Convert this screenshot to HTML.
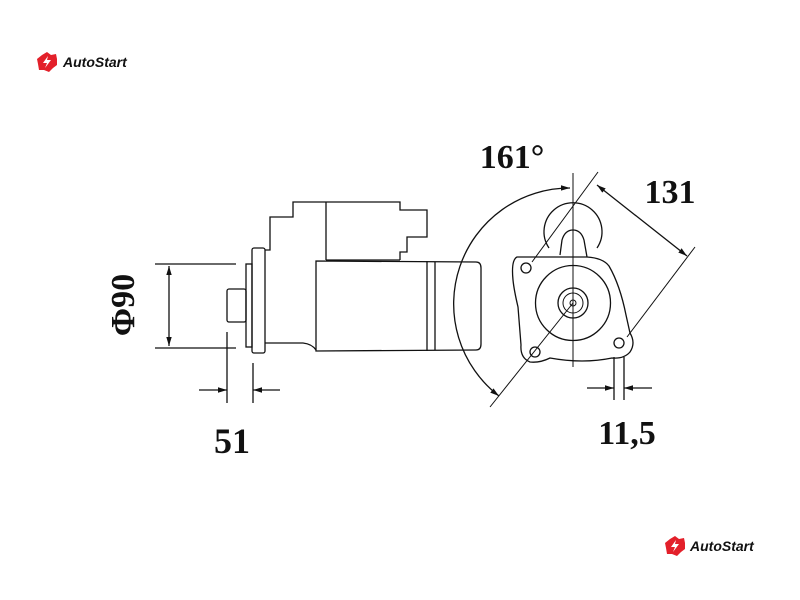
<!DOCTYPE html>
<html><head><meta charset="utf-8"><style>
html,body{margin:0;padding:0;background:#fff;width:800px;height:600px;overflow:hidden}
svg{display:block}
.t{font-family:"Liberation Serif",serif;font-weight:bold;fill:#111}
.l{font-family:"Liberation Sans",sans-serif;font-style:italic;font-weight:bold;fill:#111}
</style></head><body>
<svg width="800" height="600" viewBox="0 0 800 600" xmlns="http://www.w3.org/2000/svg">
<defs>
<marker id="a" viewBox="0 0 10 10" refX="10" refY="5" markerWidth="9" markerHeight="9" orient="auto-start-reverse" markerUnits="userSpaceOnUse"><path d="M0,2 L10,5 L0,8 Z" fill="#111"/></marker>
</defs>
<g fill="none" stroke="#111" stroke-width="1.3">
<!-- side view -->
<rect x="227" y="289" width="19" height="33" rx="2"/>
<rect x="246" y="264" width="6" height="83"/>
<rect x="252" y="248" width="13" height="105" rx="2"/>
<path d="M265,250 L270,250 L270,217 L293,217 L293,202 L400,202 L400,210 L427,210 L427,237 L407,237 L407,252 L400,252 L400,260"/>
<line x1="326" y1="202" x2="326" y2="260"/>
<line x1="326" y1="260" x2="400" y2="260"/>
<path d="M265,343 L303,343 Q312,344 316,350"/>
<path d="M316,261 L476,262 Q481,262 481,268 L481,344 Q481,350 476,350 L316,351 Z"/>
<line x1="427" y1="261" x2="427" y2="351"/>
<line x1="435" y1="262" x2="435" y2="350"/>
<!-- phi 90 -->
<line x1="155" y1="264" x2="236" y2="264"/>
<line x1="155" y1="348" x2="236" y2="348"/>
<line x1="169" y1="266" x2="169" y2="346" marker-start="url(#a)" marker-end="url(#a)"/>
<!-- 51 -->
<line x1="227" y1="332" x2="227" y2="403"/>
<line x1="253" y1="363" x2="253" y2="403"/>
<line x1="199" y1="390" x2="227" y2="390" marker-end="url(#a)"/>
<line x1="280" y1="390" x2="253" y2="390" marker-end="url(#a)"/>
<!-- front view -->
<line x1="573" y1="173" x2="573" y2="367" stroke-width="1"/>
<path d="M549,248 A29,29 0 1 1 597,248"/>
<path d="M560,255 L562,240 Q565,230 573,230 Q581,230 584,240 L587,257"/>
<path d="M517,257 L587,257 Q603,258 609,266 Q620,285 626,315 L630,333 Q636,343 630,352 Q624,359 612,358 Q583,364 550,358 Q540,363 530,362 Q520,358 521,345 L518,307 Q514,290 513,280 Q511,260 517,257 Z"/>
<circle cx="573" cy="303" r="37.5"/>
<circle cx="573" cy="303" r="15"/>
<circle cx="573" cy="303" r="10" stroke-width="1"/>
<circle cx="573" cy="303" r="3" stroke-width="1"/>
<circle cx="526" cy="268" r="5"/>
<circle cx="535" cy="352" r="5"/>
<circle cx="619" cy="343" r="5"/>
<line x1="573" y1="303" x2="490" y2="407" stroke-width="1"/>
<line x1="598" y1="172" x2="532" y2="262" stroke-width="1"/>
<line x1="627" y1="337" x2="695" y2="247" stroke-width="1"/>
<line x1="597" y1="185" x2="687" y2="256" marker-start="url(#a)" marker-end="url(#a)"/>
<path d="M570,188 A116,116 0 0 0 499,396" marker-start="url(#a)" marker-end="url(#a)"/>
<line x1="614" y1="357" x2="614" y2="400"/>
<line x1="624" y1="357" x2="624" y2="400"/>
<line x1="587" y1="388" x2="614" y2="388" marker-end="url(#a)"/>
<line x1="652" y1="388" x2="624" y2="388" marker-end="url(#a)"/>
</g>
<text class="t" x="232" y="453" font-size="36" text-anchor="middle">51</text>
<text class="t" x="0" y="0" font-size="34" text-anchor="middle" transform="translate(134,305) rotate(-90)">Φ90</text>
<text class="t" x="512" y="168" font-size="34" text-anchor="middle">161°</text>
<text class="t" x="670" y="203" font-size="34" text-anchor="middle">131</text>
<text class="t" x="627" y="444" font-size="34" text-anchor="middle">11,5</text>
<!-- logos -->
<g transform="translate(37,52)">
<path d="M10,0 L14,3 L19,2 L20,7 L20,13 L16,16 L12,20 L7,18 L2,18 L1,12 L0,7 L5,3 Z" fill="#e3202a"/>
<path d="M11,4 L6,11 L10,11 L8,16 L14,8 L10,8 Z" fill="#fff"/>
</g>
<text class="l" x="63" y="67" font-size="14">AutoStart</text>
<g transform="translate(665,536)">
<path d="M10,0 L14,3 L19,2 L20,7 L20,13 L16,16 L12,20 L7,18 L2,18 L1,12 L0,7 L5,3 Z" fill="#e3202a"/>
<path d="M11,4 L6,11 L10,11 L8,16 L14,8 L10,8 Z" fill="#fff"/>
</g>
<text class="l" x="690" y="551" font-size="14">AutoStart</text>
</svg>
</body></html>
